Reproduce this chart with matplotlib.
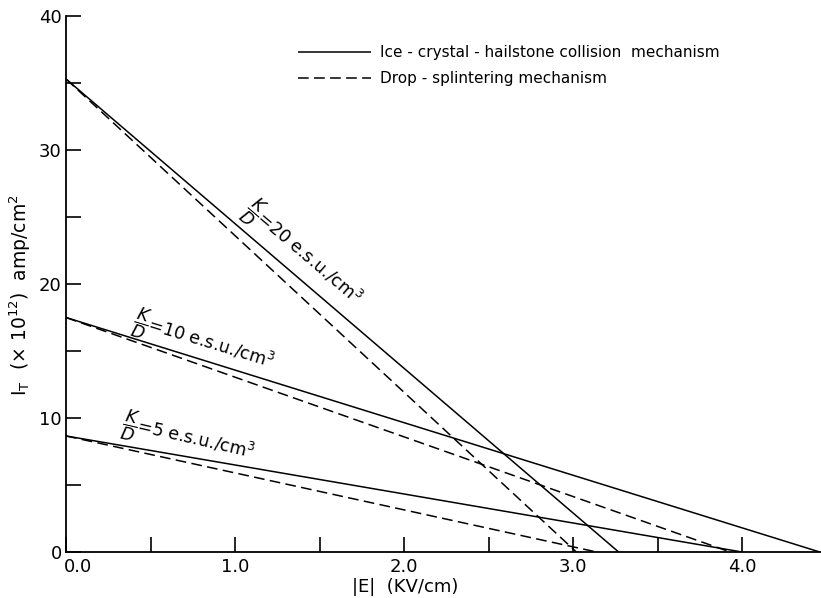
import matplotlib
matplotlib.use("Agg")
import matplotlib.pyplot as plt
import matplotlib.transforms as mtransforms
import numpy as np

# Data
kd_values = [20, 10, 5]
intercept_y = [35.3, 17.5, 8.66]          # I_T at |E| = 0
end_x_collision = [3.27, 4.46, 4.00]      # |E| where I_T = 0, solid
end_x_splinter = [3.02, 3.93, 3.14]       # |E| where I_T = 0, dashed
x_major = [0.0, 1.0, 2.0, 3.0, 4.0]
x_major_labels = ["0.0", "1.0", "2.0", "3.0", "4.0"]
x_minor = [0.5, 1.5, 2.5, 3.5]
y_major = [0, 10, 20, 30, 40]
y_minor = [5, 15, 25, 35]
legend_labels = ["Ice - crystal - hailstone collision  mechanism",
                 "Drop - splintering mechanism"]

plt.rcParams['font.family'] = ['DejaVu Sans']
plt.rcParams['mathtext.fontset'] = 'dejavusans'

fig = plt.figure(figsize=(8.21, 5.98), dpi=100)
ax = fig.add_axes([66/821, 46/598, (821-66)/821, (552-16)/598])

lw = 1.1
for i, kd in enumerate(kd_values):
    ax.plot([0, end_x_collision[i]], [intercept_y[i], 0], color='black', lw=lw,
            solid_capstyle='butt', label=legend_labels[0] if i == 0 else None)
    ax.plot([0, end_x_splinter[i]], [intercept_y[i], 0], color='black', lw=lw,
            dashes=(7, 3.5), label=legend_labels[1] if i == 0 else None)

ax.set_xlim(0, (821-66)/169)
ax.set_ylim(0, 40)
for s in ['top', 'right']:
    ax.spines[s].set_visible(False)
for s in ['left', 'bottom']:
    ax.spines[s].set_linewidth(1.3)

ax.set_xticks(x_major)
ax.set_xticklabels(x_major_labels)
ax.set_xticks(x_minor, minor=True)
ax.set_yticks(y_major)
ax.set_yticks(y_minor, minor=True)
ax.tick_params(axis='both', which='both', direction='in', length=11, width=1.2,
               labelsize=13)
ax.tick_params(axis='x', which='major', pad=4)
ax.tick_params(axis='y', which='major', pad=3)

# shift the "0.0" label right so it clears the y "0"
first = ax.get_xticklabels()[0]
first.set_transform(first.get_transform() +
                    mtransforms.ScaledTranslation(12/100, 0, fig.dpi_scale_trans))

ax.set_xlabel('|E|  (KV/cm)', fontsize=13, labelpad=3)
ax.xaxis.set_label_coords((405-66)/755, -0.048)
ax.set_ylabel(r'I$_{\mathrm{T}}$  (× 10$^{12}$)  amp/cm$^{2}$', fontsize=13.5, labelpad=6)
ax.yaxis.set_label_coords((33-66)/755, (552-295)/536)

# annotations along the lines
ann_pos = [(1.07, 25.8, -40.5), (0.40, 17.2, -17.0), (0.33, 9.6, -13.0)]
for (x, y, rot), kd in zip(ann_pos, kd_values):
    ax.text(x, y, r'$\dfrac{K}{D}$' + f'={kd} e.s.u./cm$^3$', rotation=rot,
            rotation_mode='anchor', ha='left', va='center', fontsize=12.5)

leg = ax.legend(loc='upper left', bbox_to_anchor=(298/821, 1 - 45/598),
                bbox_transform=fig.transFigure, frameon=False, fontsize=11,
                handlelength=4.8, handletextpad=0.6, labelspacing=0.75,
                borderpad=0, borderaxespad=0)

fig.savefig('out.png', dpi=100)
